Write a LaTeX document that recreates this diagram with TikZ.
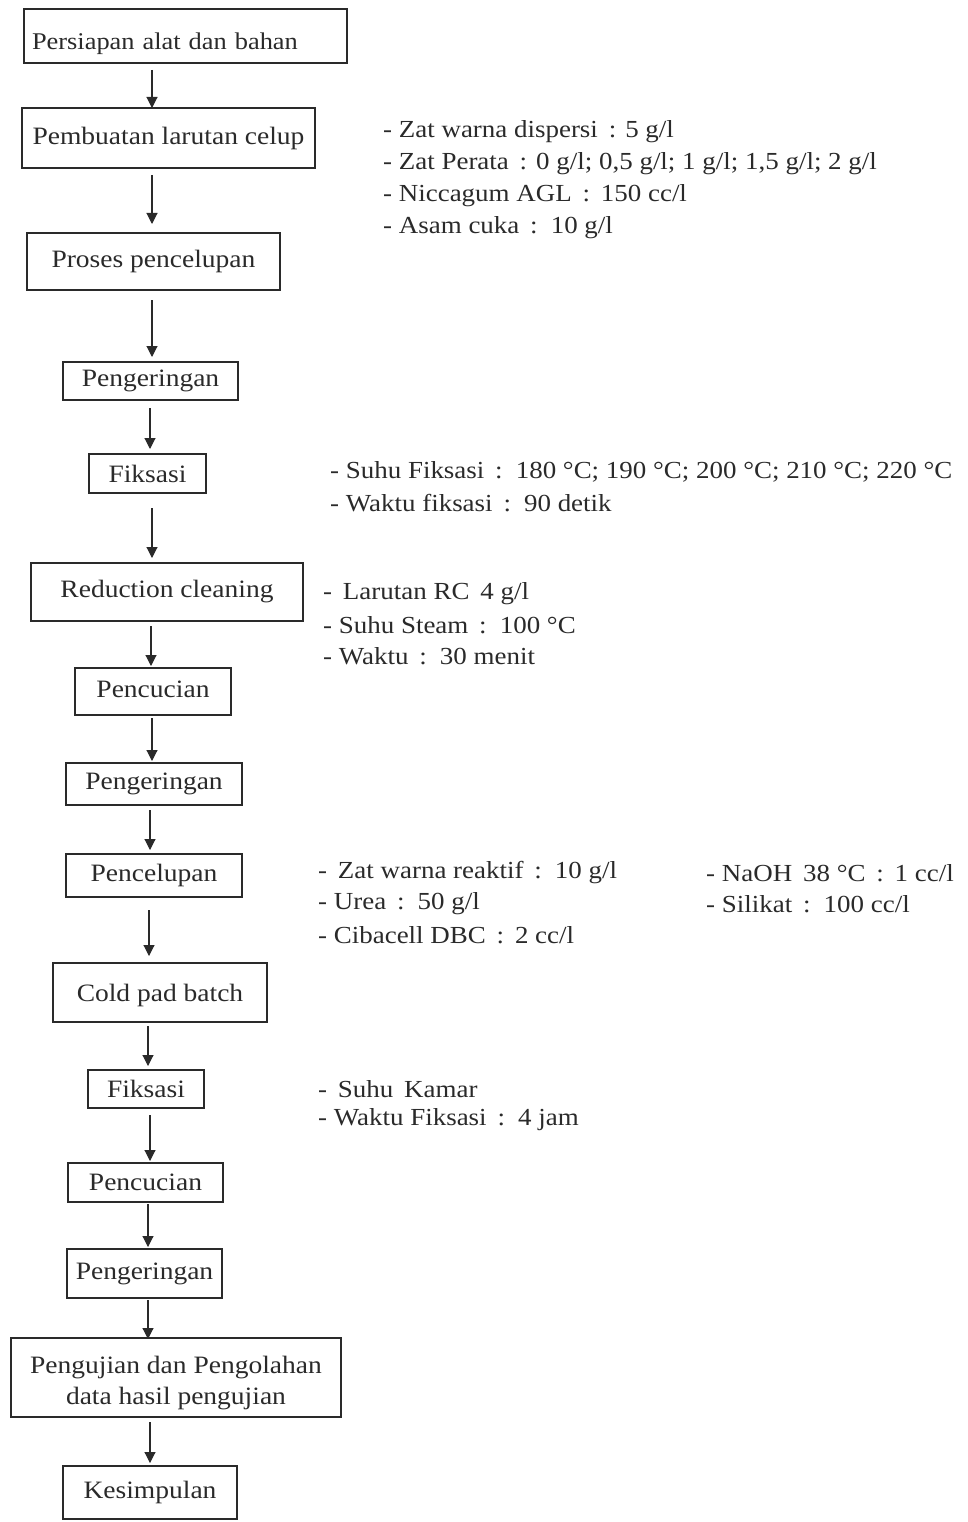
\documentclass[tikz,border=0pt]{standalone}
\usepackage{fontspec}
\setmainfont[FakeStretch=1.1]{Liberation Serif}
\usetikzlibrary{arrows.meta}
\definecolor{ink}{HTML}{2A2A2A}
\begin{document}
\begin{tikzpicture}[x=1pt,y=-1pt,
  box/.style={draw=ink, line width=1.1pt, inner sep=0pt, text=ink, font=\fontsize{25}{30}\selectfont, align=center},
  note/.style={anchor=west, inner sep=0pt, text=ink, font=\fontsize{24.5}{28}\selectfont},
  flow/.style={draw=ink, line width=1.1pt, -{Triangle[width=11pt,length=11pt]}}]
\useasboundingbox (0,0) rectangle (968,1522);
% boxes
\node[box, minimum width=323pt, minimum height=54pt, text width=307pt, align=left, font=\fontsize{24}{28}\selectfont] (b1) at (185.5,36) {\raisebox{-14pt}[0pt][0pt]{Persiapan alat dan bahan}};
\node[box, line width=1.6pt, minimum width=293pt, minimum height=60pt] (b2) at (168.5,138) {Pembuatan larutan celup};
\node[box, minimum width=253pt, minimum height=57pt] (b3) at (153.5,261.5) {Proses pencelupan};
\node[box, minimum width=175pt, minimum height=38pt] (b4) at (150.5,381) {Pengeringan};
\node[box, minimum width=117pt, minimum height=39pt] (b5) at (147.5,473.5) {Fiksasi};
\node[box, minimum width=272pt, minimum height=58pt] (b6) at (167,592) {Reduction cleaning};
\node[box, minimum width=156pt, minimum height=47pt] (b7) at (153,691.5) {\raisebox{4pt}{Pencucian}};
\node[box, minimum width=176pt, minimum height=42pt] (b8) at (154,784) {Pengeringan};
\node[box, minimum width=176pt, minimum height=43pt] (b9) at (154,875.5) {Pencelupan};
\node[box, minimum width=214pt, minimum height=59pt] (b10) at (160,992.5) {\raisebox{-9pt}[0pt][0pt]{Cold pad batch}};
\node[box, minimum width=116pt, minimum height=38pt] (b11) at (146,1089) {Fiksasi};
\node[box, minimum width=155pt, minimum height=39pt] (b12) at (145.5,1182.5) {Pencucian};
\node[box, minimum width=155pt, minimum height=49pt] (b13) at (144.5,1273.5) {Pengeringan};
\node[box, minimum width=330pt, minimum height=79pt, font=\fontsize{25}{32}\selectfont] (b14) at (176,1377.5) {\raisebox{-11pt}[0pt][0pt]{\begin{tabular}{@{}c@{}}Pengujian dan Pengolahan\\[-1pt]data hasil pengujian\end{tabular}}};
\node[box, minimum width=174pt, minimum height=53pt] (b15) at (150,1492.5) {Kesimpulan};
% connectors
\coordinate (s1) at (152,70);   \coordinate (t1) at (152,108);
\coordinate (s2) at (152,175);  \coordinate (t2) at (152,224);
\coordinate (s3) at (152,300);  \coordinate (t3) at (152,357);
\coordinate (s4) at (150,408);  \coordinate (t4) at (150,449);
\coordinate (s5) at (152,508);  \coordinate (t5) at (152,558);
\coordinate (s6) at (151,626);  \coordinate (t6) at (151,666);
\coordinate (s7) at (152,718);  \coordinate (t7) at (152,761);
\coordinate (s8) at (150,810);  \coordinate (t8) at (150,850);
\coordinate (s9) at (149,910);  \coordinate (t9) at (149,956);
\coordinate (s10) at (148,1026); \coordinate (t10) at (148,1066);
\coordinate (s11) at (150,1115); \coordinate (t11) at (150,1161);
\coordinate (s12) at (148,1204); \coordinate (t12) at (148,1247);
\coordinate (s13) at (148,1300); \coordinate (t13) at (148,1339);
\coordinate (s14) at (150,1422); \coordinate (t14) at (150,1463);
\draw[flow] (s1) -- (t1);
\draw[flow] (s2) -- (t2);
\draw[flow] (s3) -- (t3);
\draw[flow] (s4) -- (t4);
\draw[flow] (s5) -- (t5);
\draw[flow] (s6) -- (t6);
\draw[flow] (s7) -- (t7);
\draw[flow] (s8) -- (t8);
\draw[flow] (s9) -- (t9);
\draw[flow] (s10) -- (t10);
\draw[flow] (s11) -- (t11);
\draw[flow] (s12) -- (t12);
\draw[flow] (s13) -- (t13);
\draw[flow] (s14) -- (t14);
% notes
\node[note] (n1) at (383,132) {- Zat warna dispersi \,: 5 g/l};
\node[note] (n2) at (383,164) {- Zat Perata \,: 0 g/l; 0,5 g/l; 1 g/l; 1,5 g/l; 2 g/l};
\node[note] (n3) at (383,196) {- Niccagum AGL \,: \,150 cc/l};
\node[note] (n4) at (383,228) {- Asam cuka \,: \,10 g/l};
\node[note] (n5) at (330,472) {- Suhu Fiksasi \,: \,180 °C; 190 °C; 200 °C; 210 °C; 220 °C};
\node[note] (n6) at (330,503) {- Waktu fiksasi \,: \,90 detik};
\node[note] (n7) at (323,594) {- \,Larutan RC \,4 g/l};
\node[note] (n8) at (323,625) {- Suhu Steam \,: \,100 °C};
\node[note] (n9) at (323,656) {- Waktu \,: \,30 menit};
\node[note] (n10) at (318,873) {- \,Zat warna reaktif \,: \,10 g/l};
\node[note] (n11) at (318,904) {- Urea \,: \,50 g/l};
\node[note] (n12) at (318,935) {- Cibacell DBC \,: \,2 cc/l};
\node[note] (n13) at (706,873) {- NaOH \,38 °C \,: \,1 cc/l};
\node[note] (n14) at (706,904) {- Silikat \,: \,100 cc/l};
\node[note] (n15) at (318,1089) {- \,Suhu \,Kamar};
\node[note] (n16) at (318,1120) {- Waktu Fiksasi \,: \,4 jam};
\end{tikzpicture}
\end{document}
